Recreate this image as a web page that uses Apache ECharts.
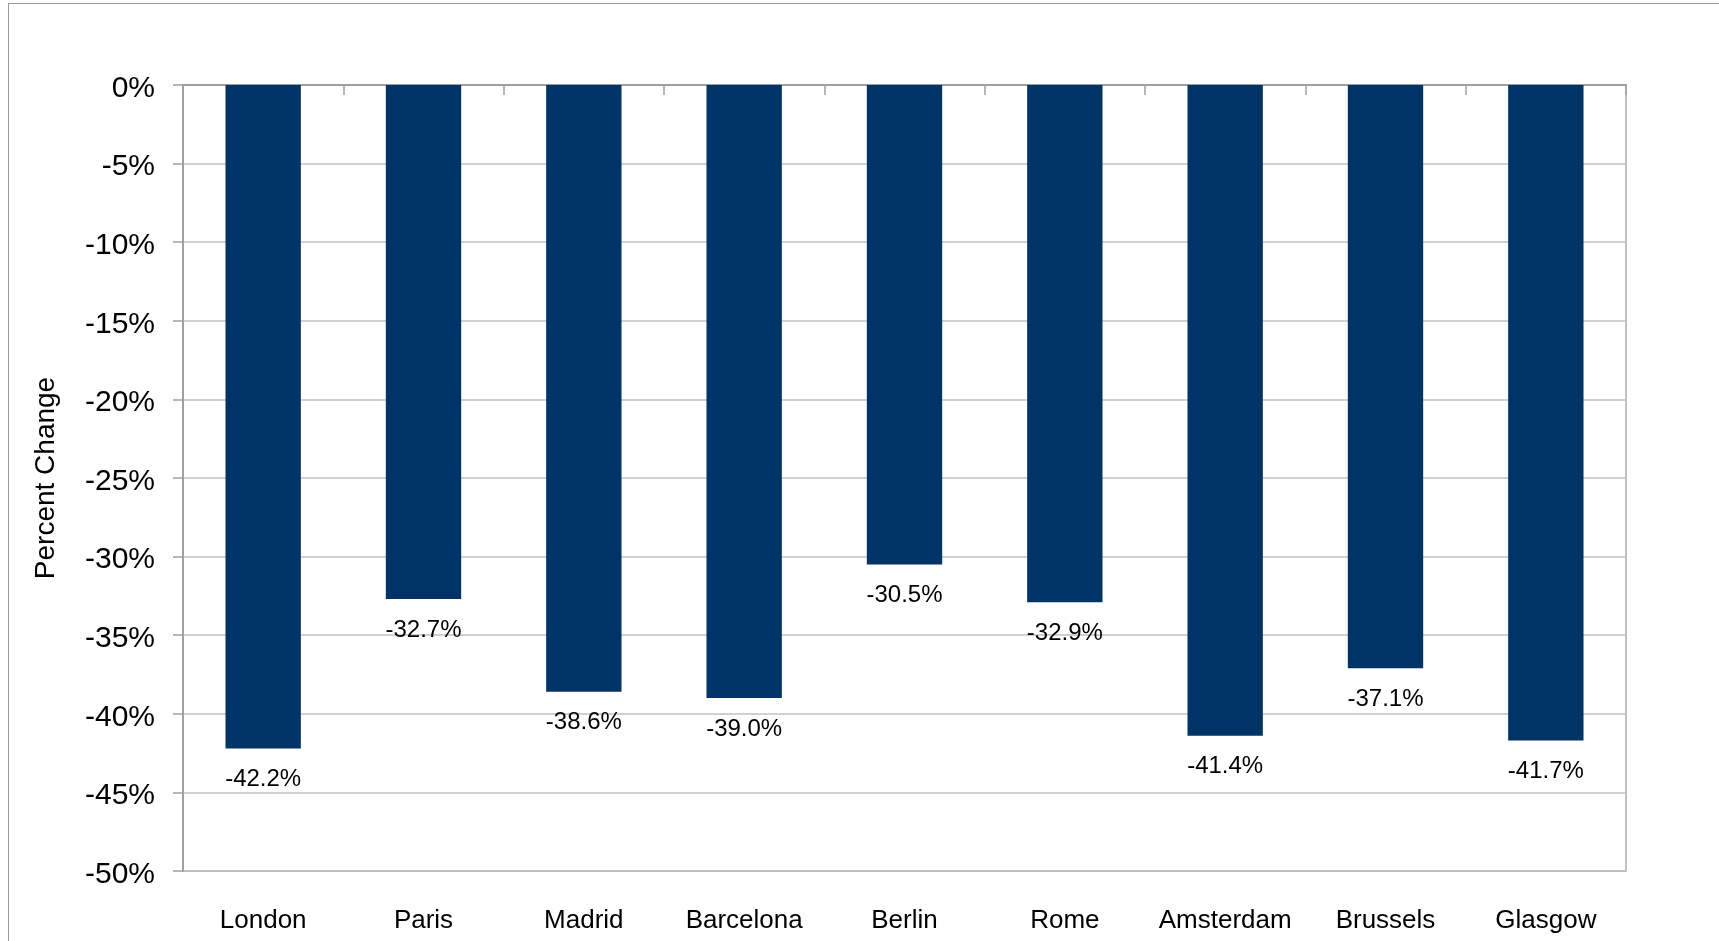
<!DOCTYPE html>
<html>
<head>
<meta charset="utf-8">
<script src="https://cdn.jsdelivr.net/npm/echarts@6/dist/echarts.min.js"></script>
<style>
  html, body { margin: 0; padding: 0; background: #fff; }
  #frame { position: absolute; left: 8px; top: 3px; width: 1800px; height: 1000px; border: 1.5px solid #9a9a9a; box-sizing: border-box; }
  #chart { position: absolute; left: 0; top: 0; width: 1719px; height: 941px; }
</style>
</head>
<body>
<div id="frame"></div>
<div id="chart"></div>
<script>
// Year-on-year change by city
const cities = ['London', 'Paris', 'Madrid', 'Barcelona', 'Berlin', 'Rome', 'Amsterdam', 'Brussels', 'Glasgow'];
const changes = [-42.2, -32.7, -38.6, -39.0, -30.5, -32.9, -41.4, -37.1, -41.7];
const yTicks = { min: -50, max: 0, step: 5 };

const FONT = '"Liberation Sans", Arial, sans-serif';
const GRID_GREY = '#c0c0c0';
const AXIS_GREY = '#a0a0a0';

const chart = echarts.init(document.getElementById('chart'), null, { renderer: 'canvas' });

chart.setOption({
  animation: false,
  backgroundColor: 'transparent',
  grid: {
    left: 183, top: 85, right: 93, bottom: 70,
    show: true, borderColor: GRID_GREY, borderWidth: 2, backgroundColor: 'transparent'
  },
  xAxis: [
    {
      // bottom axis carries only the city names
      type: 'category',
      data: cities,
      position: 'bottom',
      axisLine: { show: false },
      axisTick: { show: false },
      axisLabel: { interval: 0, color: '#000', fontFamily: FONT, fontSize: 26, margin: 37 },
      splitLine: { show: false }
    },
    {
      // zero line along the top with inward boundary ticks
      type: 'category',
      data: cities,
      position: 'top',
      axisLine: { show: true, onZero: false, lineStyle: { color: AXIS_GREY, width: 2 } },
      axisTick: { show: true, inside: true, interval: 0, length: 10, lineStyle: { color: AXIS_GREY, width: 1.5 } },
      axisLabel: { show: false },
      splitLine: { show: false }
    }
  ],
  yAxis: {
    type: 'value',
    min: yTicks.min,
    max: yTicks.max,
    interval: yTicks.step,
    name: 'Percent Change',
    nameLocation: 'middle',
    nameGap: 123,
    nameTextStyle: { color: '#000', fontFamily: FONT, fontSize: 28 },
    axisLine: { show: true, lineStyle: { color: AXIS_GREY, width: 2 } },
    axisTick: { show: true, length: 10, lineStyle: { color: AXIS_GREY, width: 1.5 } },
    axisLabel: {
      color: '#000', fontFamily: FONT, fontSize: 30, margin: 28,
      formatter: v => '{t|' + v + '%}',
      rich: { t: { color: '#000', fontFamily: FONT, fontSize: 30, padding: [7, 0, 0, 0] } }
    },
    splitLine: { show: true, lineStyle: { color: GRID_GREY, width: 1.5 } }
  },
  series: [{
    type: 'bar',
    data: changes,
    xAxisIndex: 0,
    barWidth: '47%',
    itemStyle: { color: '#003366' },
    label: {
      show: true,
      position: 'bottom',
      distance: 19,
      color: '#000',
      fontFamily: FONT,
      fontSize: 24,
      formatter: p => p.value.toFixed(1) + '%'
    }
  }]
});
</script>
</body>
</html>
